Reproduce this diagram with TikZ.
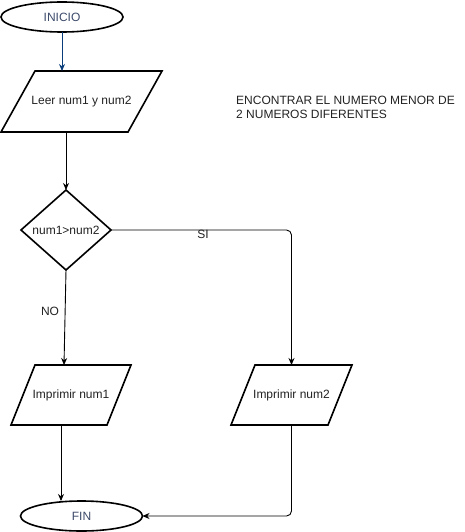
\documentclass[tikz,border=0pt]{standalone}
\usepackage{fontspec}
\setmainfont{Liberation Sans}
\usetikzlibrary{shapes.geometric,arrows.meta}
\definecolor{navy}{HTML}{0B3D7A}
\definecolor{termtext}{HTML}{3C4A6A}
\definecolor{bodytext}{HTML}{222222}
\tikzset{
  outline/.style={draw=black, line width=1.6pt, line join=miter},
  base/.style={outline, inner sep=0pt, outer sep=0pt,
    font=\fontsize{12}{14}\selectfont, text=bodytext, fill=white},
  terminal/.style={base, ellipse, minimum width=122pt, minimum height=30pt, text=termtext},
  % frame of an input/output box; the slanted outline is drawn from its corners
  ioframe/.style={rectangle, inner sep=0pt, outer sep=0pt,
    font=\fontsize{12}{14}\selectfont, text=bodytext},
  decision/.style={base, diamond, minimum width=90pt, minimum height=80pt},
  flow/.style={draw=black, line width=0.9pt, -{Stealth[length=7pt,width=6pt]}},
  lbl/.style={font=\fontsize{12}{14}\selectfont, text=bodytext, inner sep=0pt}
}
% slanted input/output outline: #1 = node name, #2 = horizontal slant
\newcommand\ioshape[2]{%
  \draw[outline] ([xshift=#2]#1.north west) -- (#1.north east)
    -- ([xshift=-#2]#1.south east) -- (#1.south west) -- cycle;}
\begin{document}
\begin{tikzpicture}[x=1pt,y=-1pt]
  \useasboundingbox (0,0) rectangle (465,532);

  % terminals and decision
  \node[terminal] (inicio) at (62,17) {INICIO};
  \node[decision] (dec) at (66,230) {num1>num2};
  \node[terminal] (fin) at (81.5,516) {FIN};

  % input/output boxes
  \node[ioframe, minimum width=161pt, minimum height=61pt] (leer) at (81.5,101.5) {Leer num1 y num2};
  \ioshape{leer}{34pt}
  \node[ioframe, minimum width=120pt, minimum height=60pt] (num1) at (71,395) {Imprimir num1};
  \ioshape{num1}{24pt}
  \node[ioframe, minimum width=121pt, minimum height=60pt] (num2) at (291.5,395) {Imprimir num2};
  \ioshape{num2}{24pt}

  % title
  \node[lbl, anchor=north west, align=left] (title) at (236,96)
    {ENCONTRAR EL NUMERO MENOR DE\\2 NUMEROS DIFERENTES};

  % connectors
  \draw[flow, draw=navy, -{Stealth[length=7pt,width=6pt,fill=navy]}]
    (inicio.south) -- (inicio.south |- leer.north);
  \draw[flow] (dec.north |- leer.south) -- (dec.north);
  \draw[flow] (dec.south) -- ([xshift=-2pt]dec.south |- num1.north);
  \draw[flow, rounded corners=5pt] (dec.east) -| (num2.north);
  \draw[flow] ([xshift=-20.5pt]fin.north |- num1.south) -- ([xshift=-20.5pt]fin.north);
  \draw[flow, rounded corners=5pt] (num2.south) |- (fin.east);

  % branch labels
  \node[lbl] (si) at (203,234) {SI};
  \node[lbl] (no) at (50,311) {NO};
\end{tikzpicture}
\end{document}
